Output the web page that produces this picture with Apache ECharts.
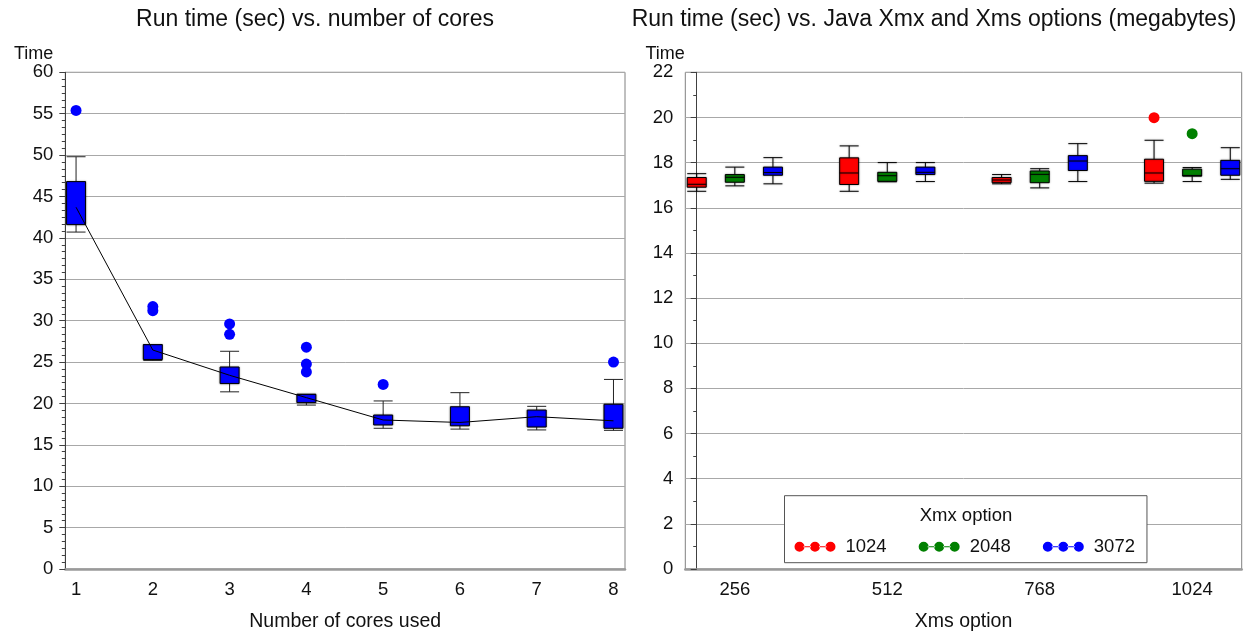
<!DOCTYPE html>
<html>
<head>
<meta charset="utf-8">
<script src="https://cdn.jsdelivr.net/npm/echarts@6/dist/echarts.min.js"></script>
<style>
html,body{margin:0;padding:0;background:#fff;}
#chart{width:1252px;height:637px;}
</style>
</head>
<body>
<div id="chart"></div>
<script>
// ---------- Left chart data: run time vs number of cores ----------
const cores = [1, 2, 3, 4, 5, 6, 7, 8];
const coreWhiskerLow = [40.7, 25.2, 21.4, 19.8, 17.0, 16.9, 16.8, 16.75];
const coreQ1 = [41.6, 25.3, 22.4, 20.1, 17.4, 17.3, 17.15, 17.0];
const coreQ3 = [46.8, 27.1, 24.4, 21.1, 18.6, 19.6, 19.2, 19.9];
const coreWhiskerHigh = [49.8, 27.1, 26.3, 21.1, 20.3, 21.3, 19.65, 22.9];
const coreTrend = [43.7, 26.45, 23.4, 20.7, 18.0, 17.7, 18.4, 17.9];
const coreOutlierCore = [1, 2, 2, 3, 3, 4, 4, 4, 5, 8];
const coreOutlierTime = [55.4, 31.7, 31.2, 29.6, 28.35, 26.8, 24.75, 23.8, 22.3, 25.0];

// ---------- Right chart data: run time vs Xmx / Xms ----------
const xmsOptions = ['256', '512', '768', '1024'];
const xmxOptions = ['1024', '2048', '3072'];
const xmxColors = ['#ff0000', '#008000', '#0000ff'];
// per Xmx option, per Xms option
const xmMin = [
  [16.73, 16.73, 17.06, 17.09],
  [16.97, 17.15, 16.88, 17.16],
  [17.06, 17.16, 17.16, 17.26]
];
const xmQ1 = [
  [16.91, 17.03, 17.11, 17.17],
  [17.13, 17.17, 17.11, 17.40],
  [17.44, 17.47, 17.65, 17.44]
];
const xmMedian = [
  [17.04, 17.54, 17.23, 17.54],
  [17.35, 17.42, 17.48, 17.43],
  [17.56, 17.57, 18.07, 17.73]
];
const xmQ3 = [
  [17.34, 18.21, 17.34, 18.15],
  [17.47, 17.57, 17.63, 17.71],
  [17.80, 17.80, 18.31, 18.10]
];
const xmMax = [
  [17.51, 18.74, 17.47, 18.99],
  [17.80, 18.00, 17.73, 17.78],
  [18.22, 18.00, 18.84, 18.66]
];
// outliers: [xmx index, xms index, value]
const xmOutlierXmx = [0, 1];
const xmOutlierXms = [3, 3];
const xmOutlierTime = [19.99, 19.28];

// ---------- build ----------
const FONT = "'Liberation Sans', Arial, sans-serif";
const TXT = '#111';
const slotsPerGroup = xmxOptions.length + 1;
const slotOf = (g, s) => g * slotsPerGroup + s;
const groupCenter = g => g * slotsPerGroup + (xmxOptions.length - 1) / 2;

const leftBoxData = cores.map((c, i) => [c, coreWhiskerLow[i], coreQ1[i], coreQ3[i], coreWhiskerHigh[i]]);
const leftTrend = cores.map((c, i) => [c, coreTrend[i]]);
const leftOutliers = coreOutlierCore.map((c, i) => [c, coreOutlierTime[i]]);

const rightBoxSeries = xmxOptions.map((name, s) => ({
  name: name,
  type: 'boxplot',
  xAxisIndex: 1 + s,
  yAxisIndex: 1,
  boxWidth: [19, 19],
  itemStyle: { color: xmxColors[s], borderColor: '#000', borderWidth: 1,
    shadowColor: 'rgba(0,0,0,0.35)', shadowBlur: 2 },
  emphasis: { disabled: true },
  data: xmsOptions.map((x, g) => [slotOf(g, s), xmMin[s][g], xmQ1[s][g], xmMedian[s][g], xmQ3[s][g], xmMax[s][g]]),
  z: 3
}));
const rightOutlierSeries = xmxOptions.map((name, s) => ({
  name: 'outliers ' + name,
  type: 'scatter',
  xAxisIndex: 1,
  yAxisIndex: 1,
  symbol: 'circle',
  symbolSize: 11,
  itemStyle: { color: xmxColors[s], opacity: 1 },
  emphasis: { disabled: true },
  data: xmOutlierXmx.map((xi, k) => xi === s ? [slotOf(xmOutlierXms[k], s), xmOutlierTime[k]] : null).filter(d => d),
  z: 4
}));

const yAxisCommon = {
  type: 'value',
  axisLine: { show: true, lineStyle: { color: '#404040', width: 1 } },
  axisTick: { show: true, length: 6, lineStyle: { color: '#404040' } },
  minorTick: { show: true, length: 3.5, lineStyle: { color: '#404040' } },
  splitLine: { show: true, lineStyle: { color: '#a8a8a8', width: 1 } },
  axisLabel: { color: TXT, fontSize: 18.5, fontFamily: FONT, margin: 12 },
  name: 'Time',
  nameLocation: 'end',
  nameGap: 16,
  nameTextStyle: { color: TXT, fontSize: 18, fontFamily: FONT, align: 'right', verticalAlign: 'middle', padding: [0, 12, 0, 0] }
};
const xAxisLine = { show: true, lineStyle: { color: '#9a9a9a', width: 2.5 } };

const rightXMin = -0.3, rightXMax = slotOf(xmsOptions.length - 1, xmxOptions.length - 1) + 0.3;

const iconPath = 'path://M0,5a5,5 0 1,0 10,0a5,5 0 1,0 -10,0Z M15.5,5a5,5 0 1,0 10,0a5,5 0 1,0 -10,0Z M31,5a5,5 0 1,0 10,0a5,5 0 1,0 -10,0Z M9,4.5L16.5,4.5L16.5,5.5L9,5.5Z M24.5,4.5L32,4.5L32,5.5L24.5,5.5Z';

const option = {
  backgroundColor: '#fff',
  animation: false,
  textStyle: { fontFamily: FONT },
  title: [
    { text: 'Run time (sec) vs. number of cores', left: 315, top: 8, padding: 0, textAlign: 'center',
      textStyle: { color: TXT, fontSize: 23, fontWeight: 'normal', fontFamily: FONT } },
    { text: 'Run time (sec) vs. Java Xmx and Xms options (megabytes)', left: 934, top: 8, padding: 0, textAlign: 'center',
      textStyle: { color: TXT, fontSize: 23, fontWeight: 'normal', fontFamily: FONT } },
    { text: 'Xmx option', left: 966, top: 506, padding: 0, textAlign: 'center', z: 20,
      textStyle: { color: TXT, fontSize: 18.5, fontWeight: 'normal', fontFamily: FONT } }
  ],
  legend: {
    data: xmxOptions.map((name, s) => ({ name: name, itemStyle: { color: xmxColors[s], borderWidth: 0 } })),
    left: 784.5,
    top: 495.7,
    orient: 'horizontal',
    padding: [41, 12, 6, 10],
    itemGap: 32,
    itemWidth: 41,
    itemHeight: 10,
    icon: iconPath,
    itemStyle: { borderWidth: 0, shadowBlur: 0 },
    backgroundColor: '#fff',
    borderColor: '#555',
    borderWidth: 1,
    textStyle: { color: TXT, fontSize: 18.5, fontFamily: FONT, lineHeight: 20, padding: [0, 0, 0, 5] },
    selectedMode: false,
    z: 10
  },
  grid: [
    { left: 65.3, top: 72.3, right: 627, bottom: 68, show: true, borderColor: '#808080', borderWidth: 1 },
    { left: 685.3, top: 72.3, right: 10.3, bottom: 67.7, show: true, borderColor: '#808080', borderWidth: 1 }
  ],
  xAxis: [
    { gridIndex: 0, type: 'value', min: 0.86, max: 8.15,
      axisLine: xAxisLine, axisTick: { show: false }, splitLine: { show: false },
      axisLabel: { customValues: cores, color: TXT, fontSize: 18.5, fontFamily: FONT, margin: 11 },
      name: 'Number of cores used', nameLocation: 'middle', nameGap: 43,
      nameTextStyle: { color: TXT, fontSize: 19.5, fontFamily: FONT } },
    { gridIndex: 1, type: 'value', min: rightXMin, max: rightXMax,
      axisLine: xAxisLine, axisTick: { show: false }, splitLine: { show: false },
      axisLabel: { customValues: xmsOptions.map((x, g) => groupCenter(g)),
        formatter: v => xmsOptions[Math.round((v - (xmxOptions.length - 1) / 2) / slotsPerGroup)],
        color: TXT, fontSize: 18.5, fontFamily: FONT, margin: 11 },
      name: 'Xms option', nameLocation: 'middle', nameGap: 43,
      nameTextStyle: { color: TXT, fontSize: 19.5, fontFamily: FONT } },
    { gridIndex: 1, type: 'value', min: rightXMin, max: rightXMax, show: false },
    { gridIndex: 1, type: 'value', min: rightXMin, max: rightXMax, show: false }
  ],
  yAxis: [
    Object.assign({}, yAxisCommon, { gridIndex: 0, min: 0, max: 60, interval: 5,
      minorTick: Object.assign({}, yAxisCommon.minorTick, { splitNumber: 6 }) }),
    Object.assign({}, yAxisCommon, { gridIndex: 1, min: 0, max: 22, interval: 2,
      minorTick: Object.assign({}, yAxisCommon.minorTick, { splitNumber: 2 }) })
  ],
  series: [
    {
      name: 'cores box',
      type: 'custom',
      xAxisIndex: 0, yAxisIndex: 0,
      data: leftBoxData,
      encode: { x: 0, y: [1, 2, 3, 4] },
      z: 3,
      renderItem: function (params, api) {
        const x = api.value(0);
        const pLo = api.coord([x, api.value(1)]);
        const pQ1 = api.coord([x, api.value(2)]);
        const pQ3 = api.coord([x, api.value(3)]);
        const pHi = api.coord([x, api.value(4)]);
        const w = 19;
        const cx = pLo[0];
        const ls = { stroke: '#222', lineWidth: 1 };
        return {
          type: 'group',
          children: [
            { type: 'line', shape: { x1: cx, y1: pHi[1], x2: cx, y2: pQ3[1] }, style: ls },
            { type: 'line', shape: { x1: cx, y1: pQ1[1], x2: cx, y2: pLo[1] }, style: ls },
            { type: 'line', shape: { x1: cx - w / 2, y1: pHi[1], x2: cx + w / 2, y2: pHi[1] }, style: ls },
            { type: 'line', shape: { x1: cx - w / 2, y1: pLo[1], x2: cx + w / 2, y2: pLo[1] }, style: ls },
            { type: 'rect', shape: { x: cx - w / 2, y: pQ3[1], width: w, height: pQ1[1] - pQ3[1] },
              style: { fill: '#0000ff', stroke: '#000', lineWidth: 1, shadowColor: 'rgba(0,0,0,0.35)', shadowBlur: 2 } }
          ]
        };
      }
    },
    {
      name: 'cores trend',
      type: 'line',
      xAxisIndex: 0, yAxisIndex: 0,
      data: leftTrend,
      showSymbol: false,
      symbol: 'none',
      lineStyle: { color: '#000', width: 1 },
      z: 5
    },
    {
      name: 'cores outliers',
      type: 'scatter',
      xAxisIndex: 0, yAxisIndex: 0,
      data: leftOutliers,
      symbol: 'circle',
      symbolSize: 11,
      itemStyle: { color: '#0000ff', opacity: 1 },
      emphasis: { disabled: true },
      z: 4
    }
  ].concat(rightBoxSeries, rightOutlierSeries)
};

const chart = echarts.init(document.getElementById('chart'), null, { renderer: 'canvas' });
chart.setOption(option);
</script>
</body>
</html>
